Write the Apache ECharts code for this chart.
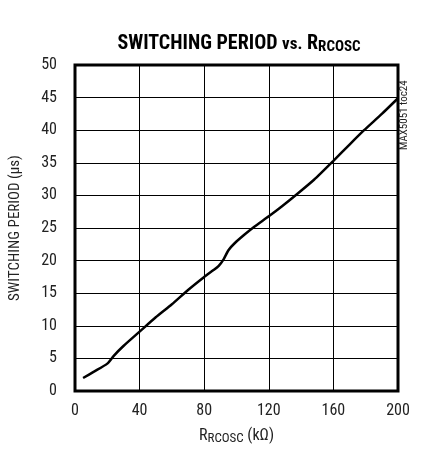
<!DOCTYPE html>
<html>
<head>
<meta charset="utf-8">
<script src="https://cdn.jsdelivr.net/npm/echarts@6/dist/echarts.min.js"></script>
<style>
  html, body { margin: 0; padding: 0; background: #fff; }
  #main { width: 421px; height: 454px; }
</style>
</head>
<body>
<div id="main"></div>
<script>
// R_RCOSC in kOhm
var rValues = [5, 12, 20, 24, 30, 40, 50, 60, 70, 80, 86, 89, 92, 95, 99, 105, 111, 120, 128, 137, 148, 160, 170, 179, 190, 200];
// switching period in us
var periodValues = [2.0, 3.0, 4.2, 5.4, 6.9, 9.1, 11.3, 13.3, 15.5, 17.5, 18.6, 19.2, 20.2, 21.6, 22.7, 24.0, 25.2, 26.8, 28.3, 30.1, 32.4, 35.3, 37.8, 40.0, 42.5, 44.9];
var xTicks = [0, 40, 80, 120, 160, 200];
var yTicks = [0, 5, 10, 15, 20, 25, 30, 35, 40, 45, 50];

var font = '"Liberation Sans Narrow", "Roboto Condensed", "Liberation Sans", Arial, sans-serif';

var chart = echarts.init(document.getElementById('main'));
chart.setOption({
  animation: false,
  backgroundColor: '#fff',
  title: {
    text: '{a|SWITCHING PERIOD }{c|vs.}{a| R}{b|RCOSC}',
    left: 234,
    top: 28,
    textAlign: 'center',
    textStyle: {
      rich: {
        a: { fontFamily: font, fontWeight: 'bold', fontSize: 20, color: '#000' },
        c: { fontFamily: font, fontWeight: 'bold', fontSize: 17, color: '#000', padding: [2, 0, 0, 0] },
        b: { fontFamily: font, fontWeight: 'bold', fontSize: 15, color: '#000', padding: [7, 0, 0, 0] }
      }
    }
  },
  grid: { left: 72, right: 23, top: 65, bottom: 63, show: true, borderColor: '#000', borderWidth: 3 },
  xAxis: {
    type: 'value',
    min: xTicks[0],
    max: xTicks[xTicks.length - 1],
    interval: 40,
    name: '{a|R}{b|RCOSC}{a| (kΩ)}',
    nameLocation: 'middle',
    nameGap: 36,
    nameTextStyle: {
      rich: {
        a: { fontFamily: font, fontSize: 16, color: '#222' },
        b: { fontFamily: font, fontSize: 13, color: '#222', padding: [5, 0, 0, 0] }
      }
    },
    axisLine: { show: false },
    axisTick: { show: false },
    axisLabel: { fontFamily: font, fontSize: 16, color: '#222', margin: 12 },
    splitLine: { show: true, lineStyle: { color: '#000', width: 1 } }
  },
  yAxis: {
    type: 'value',
    min: yTicks[0],
    max: yTicks[yTicks.length - 1],
    interval: 5,
    name: 'SWITCHING PERIOD (µs)',
    nameLocation: 'middle',
    nameGap: 52,
    nameTextStyle: { fontFamily: font, fontSize: 15, color: '#222' },
    axisLine: { show: false },
    axisTick: { show: false },
    axisLabel: { fontFamily: font, fontSize: 16, color: '#222', margin: 18 },
    splitLine: { show: true, lineStyle: { color: '#000', width: 1 } }
  },
  graphic: [{
    type: 'text',
    x: 404,
    y: 150,
    rotation: Math.PI / 2,
    style: { text: 'MAX5051 toc24', fontFamily: font, fontSize: 11, fill: '#222', textAlign: 'left', textVerticalAlign: 'middle' }
  }],
  series: [{
    type: 'line',
    data: rValues.map(function (r, i) { return [r, periodValues[i]]; }),
    smooth: 0.2,
    showSymbol: false,
    lineStyle: { color: '#000', width: 2.5 }
  }]
});
</script>
</body>
</html>
